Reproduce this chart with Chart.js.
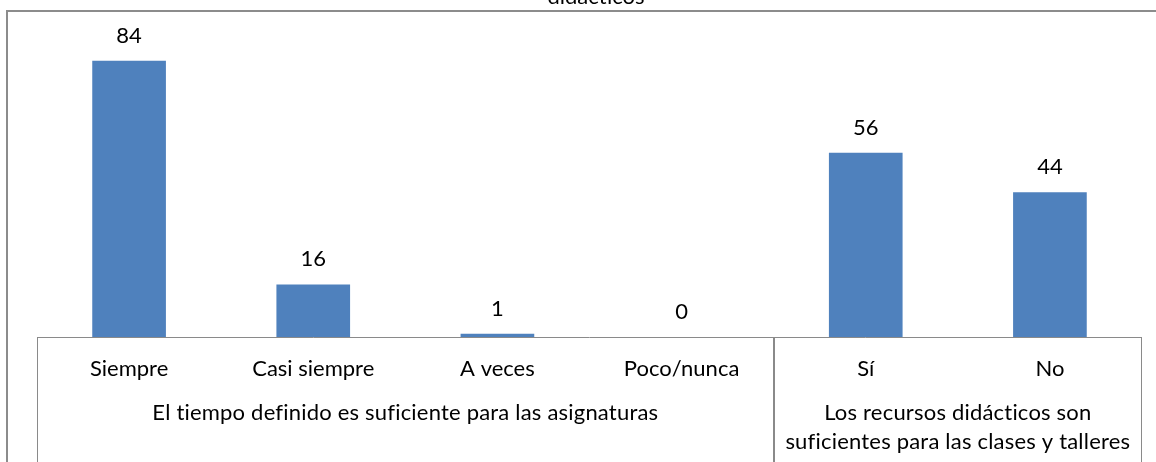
<!DOCTYPE html>
<html>
<head>
<meta charset="utf-8">
<script src="https://cdn.jsdelivr.net/npm/chart.js@4"></script>
<style>
  html, body { margin: 0; padding: 0; background: #fff; }
  #wrap { width: 1156px; height: 462px; position: relative; }
</style>
</head>
<body>
<div id="wrap"><canvas id="chart" width="1156" height="462"></canvas></div>
<script>
const categories = ['Siempre', 'Casi siempre', 'A veces', 'Poco/nunca', 'Sí', 'No'];
const values = [84, 16, 1, 0, 56, 44];
const groups = [
  { label: ['El tiempo definido es suficiente para las asignaturas'], from: 0, to: 3 },
  { label: ['Los recursos didácticos son', 'suficientes para las clases y talleres'], from: 4, to: 5 }
];
const titleText = 'didácticos';

const FONT = 'Lato, "Open Sans", sans-serif';
const LINE = '#8a8a8a';

const frame = {
  id: 'frame',
  beforeDraw(chart) {
    const ctx = chart.ctx;
    ctx.save();
    ctx.strokeStyle = '#8c8c8c';
    ctx.lineWidth = 2;
    ctx.beginPath();
    ctx.moveTo(7, 470);
    ctx.lineTo(7, 11);
    ctx.lineTo(1170, 11);
    ctx.stroke();
    ctx.fillStyle = '#000';
    ctx.font = '22px ' + FONT;
    ctx.textAlign = 'center';
    ctx.textBaseline = 'alphabetic';
    ctx.fillText(titleText, 596, 4);
    ctx.restore();
  },
  afterDraw(chart) {
    const ctx = chart.ctx;
    const x = chart.scales.x;
    const area = chart.chartArea;
    const step = x.getPixelForValue(1) - x.getPixelForValue(0);
    ctx.save();
    ctx.strokeStyle = LINE;
    ctx.lineWidth = 1;
    ctx.beginPath();
    ctx.moveTo(area.left, Math.round(area.bottom) + 0.5);
    ctx.lineTo(area.right, Math.round(area.bottom) + 0.5);
    groups.forEach(g => {
      const l = Math.round(x.getPixelForValue(g.from) - step / 2) + 0.5;
      const r = Math.round(x.getPixelForValue(g.to) + step / 2) - 0.5;
      ctx.moveTo(l, area.bottom);
      ctx.lineTo(l, 462);
      ctx.moveTo(r, area.bottom);
      ctx.lineTo(r, 462);
    });
    ctx.stroke();

    ctx.fillStyle = '#000';
    ctx.font = '22px ' + FONT;
    ctx.textAlign = 'center';
    ctx.textBaseline = 'middle';
    // a tiny letter spacing keeps Lato from joining "ti" / "fi"
    if ('letterSpacing' in ctx) ctx.letterSpacing = '0.2px';
    groups.forEach(g => {
      const cx = (x.getPixelForValue(g.from) + x.getPixelForValue(g.to)) / 2;
      g.label.forEach((t, i) => ctx.fillText(t, cx, area.bottom + 76 + i * 29));
    });
    if ('letterSpacing' in ctx) ctx.letterSpacing = '0px';

    const meta = chart.getDatasetMeta(0);
    meta.data.forEach((bar, i) => {
      ctx.fillText(String(values[i]), bar.x, bar.y - 25);
    });
    ctx.restore();
  }
};

new Chart(document.getElementById('chart'), {
  type: 'bar',
  data: {
    labels: categories,
    datasets: [{
      data: values,
      backgroundColor: '#4f81bd',
      borderWidth: 0,
      barPercentage: 0.4,
      categoryPercentage: 1
    }]
  },
  options: {
    responsive: false,
    animation: false,
    layout: { padding: { left: 37, right: 14, top: 41, bottom: 0 } },
    scales: {
      x: {
        grid: { display: false, drawTicks: false },
        border: { display: false },
        ticks: { color: '#000', font: { family: FONT, size: 22 }, padding: 19, maxRotation: 0, autoSkip: false },
        afterFit(scale) { scale.height = 125; }
      },
      y: { display: false, min: 0, max: 90 }
    },
    plugins: {
      legend: { display: false },
      tooltip: { enabled: false }
    }
  },
  plugins: [frame]
});
</script>
</body>
</html>
